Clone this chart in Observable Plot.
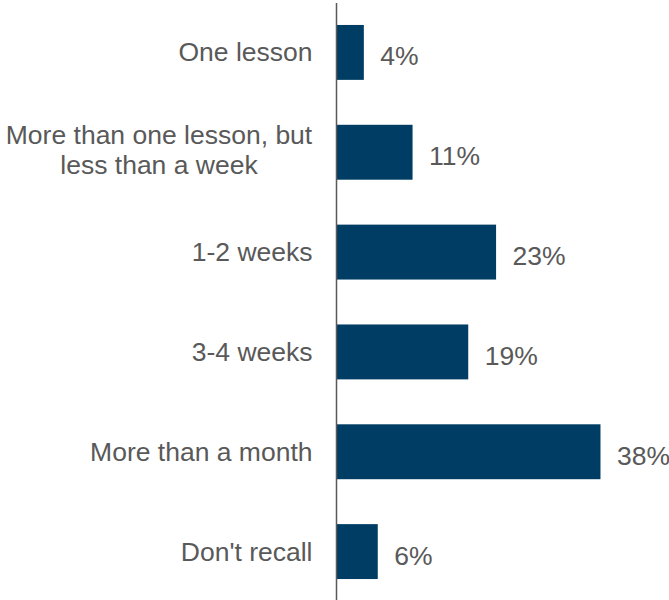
<!DOCTYPE html>
<html>
<head>
<meta charset="utf-8">
<script src="https://cdn.jsdelivr.net/npm/d3@7"></script>
<script src="https://cdn.jsdelivr.net/npm/@observablehq/plot@0.6"></script>
<style>
  html, body { margin: 0; padding: 0; background: #fff; }
  svg { display: block; }
</style>
</head>
<body>
<div id="chart"></div>
<script>
const categories = [
  "One lesson",
  "More than one lesson, but\nless than a week",
  "1-2 weeks",
  "3-4 weeks",
  "More than a month",
  "Don't recall"
];
const values = [4, 11, 23, 19, 38, 6];
const valueLabels = ["4%", "11%", "23%", "19%", "38%", "6%"];

const data = categories.map((c, i) => ({category: c, value: values[i], label: valueLabels[i]}));
const singleLine = data.filter(d => !d.category.includes("\n"));
const multiLine = data.filter(d => d.category.includes("\n"));

const font = "Liberation Sans, Arial, Helvetica, sans-serif";
const gray = "#595959";
const fs = 26.5;

const chart = Plot.plot({
  width: 669,
  height: 600,
  marginLeft: 336,
  marginRight: 54.6,
  marginTop: 3,
  marginBottom: 0,
  style: {fontFamily: font, background: "#fff"},
  x: {domain: [0, 40], axis: null},
  y: {domain: categories, axis: null, paddingInner: 0.45, paddingOuter: 0.225, round: false, range: [2.5, 601.5]},
  marks: [
    Plot.barX(data, {x: "value", y: "category", fill: "#003D65"}),
    Plot.ruleX([0], {stroke: gray, strokeWidth: 1.5}),
    Plot.text(data, {
      x: "value", y: "category", text: "label",
      textAnchor: "start", dx: 16, dy: 4,
      fontSize: fs, fill: gray, fontFamily: font
    }),
    Plot.text(singleLine, {
      x: 0, y: "category", text: "category",
      textAnchor: "end", dx: -24,
      fontSize: fs, fill: gray, fontFamily: font
    }),
    Plot.text(multiLine, {
      x: 0, y: "category", text: "category",
      textAnchor: "middle", dx: -177.5, dy: -3, lineHeight: 1.12,
      fontSize: fs, fill: gray, fontFamily: font
    })
  ]
});
document.getElementById("chart").appendChild(chart);
</script>
</body>
</html>
